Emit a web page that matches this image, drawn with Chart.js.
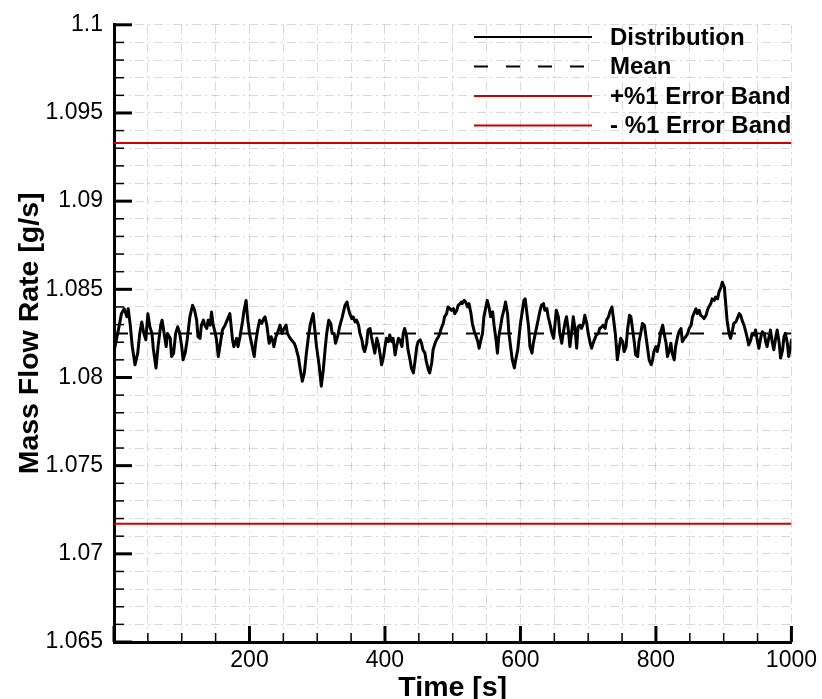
<!DOCTYPE html>
<html>
<head>
<meta charset="utf-8">
<title>Mass Flow Rate</title>
<script src="https://cdn.jsdelivr.net/npm/chart.js@4.4.1/dist/chart.umd.min.js"></script>
<style>
  html, body { margin: 0; padding: 0; background: #fff; }
  canvas { display: block; }
</style>
</head>
<body>
<canvas id="flowChart" width="822" height="699"></canvas>
<script>
// time stamps [s]
const timeS = [
  0, 6, 11, 15, 19, 21, 24, 27, 31, 35, 38, 41, 44, 47, 50, 53, 56, 58, 62, 65,
  69, 71, 74, 77, 79, 83, 85, 88, 91, 94, 97, 100, 102, 105, 108, 112, 116, 119, 122, 124,
  127, 129, 132, 134, 137, 139, 142, 144, 146, 149, 151, 154, 157, 160, 164, 168, 171,
  175, 177, 181, 183, 186, 190, 192, 195, 197, 200, 203, 207, 209, 212, 215, 218, 221, 223, 226, 229,
  232, 234, 236, 239, 242, 245, 248, 251, 254, 256, 260, 262, 266, 268, 272, 275, 278, 281, 284, 287,
  290, 294, 296, 299, 303, 306, 309, 312, 314, 317, 320, 322, 325, 327, 330, 333, 337, 341, 344,
  346, 348, 351, 353, 356, 358, 361, 363, 366, 368, 370, 373, 375, 378, 380, 383, 385, 388, 390, 393,
  395, 398, 400, 402, 405, 407, 410, 412, 415, 417, 420, 422, 425, 427, 429, 432, 434, 437, 439, 442,
  444, 447, 449, 452, 454, 456, 459, 461, 464, 466, 469, 471, 474, 476, 479, 481, 483, 486, 488, 491,
  493, 496, 498, 501, 503, 506, 508, 511, 513,
  514, 517, 519, 522, 524, 527, 529, 532, 534, 537, 539, 541, 544, 546, 549, 551, 554, 556, 559, 561,
  564, 566, 568, 571, 573, 576, 578, 581, 583, 586, 588, 591, 593, 596, 598, 600, 603, 605, 607, 609,
  612, 614, 617, 619, 622, 624, 626, 629, 631, 634, 636, 639, 641, 644, 646, 649, 651, 653, 656, 658,
  661, 663, 666, 668, 671, 673, 676, 678, 681, 683, 685,
  688, 690, 693, 695, 698, 700, 703, 705, 708, 710, 712, 715, 717, 720, 722, 725, 727, 730, 732, 735,
  737, 740, 742, 743, 746, 748, 751, 753, 756, 758, 761, 763, 766, 768, 770, 773, 775, 778, 780, 783,
  785, 788, 790, 793, 795, 797, 800, 802, 805, 807, 810, 812, 815, 817, 820, 822, 824, 827, 829, 832,
  834, 837, 839, 842, 844, 847, 849, 852, 854, 856,
  859, 861, 864, 866, 869, 871, 874, 876, 878, 881, 883, 886, 888, 891, 893, 896, 898, 901, 903, 905,
  908, 910, 913, 915, 918, 920, 923, 925, 928, 930, 932, 935, 937, 940, 942, 945, 947, 950, 952, 955,
  957, 960, 962, 964, 967, 969, 972, 974, 977, 979, 982, 984, 987, 989, 991, 994, 996, 999, 1000
];

// mass flow rate [g/s], one value per time stamp
const massFlow = [
  1.08147, 1.0826, 1.08362, 1.0839, 1.08344, 1.0839, 1.08297, 1.08175, 1.08072, 1.08138,
  1.0825, 1.08315, 1.0825, 1.08213, 1.08362, 1.08287, 1.0825, 1.08166, 1.08054, 1.08175,
  1.08297, 1.08325, 1.0825, 1.08175, 1.0825, 1.08222, 1.08119, 1.08138, 1.0825, 1.08287,
  1.0825, 1.08175, 1.081, 1.08138, 1.08213, 1.08344, 1.08409, 1.08381, 1.08325, 1.08231,
  1.08222, 1.08297, 1.08325, 1.08297, 1.08278, 1.08325, 1.08297, 1.08372, 1.08306, 1.08259,
  1.08222, 1.08119, 1.08194, 1.08269, 1.08297, 1.08334, 1.08362,
  1.08213, 1.08175, 1.08222, 1.08175, 1.08231, 1.08325, 1.08381, 1.08437, 1.08344, 1.0825,
  1.08194, 1.08119, 1.08194, 1.08269, 1.08325, 1.08306, 1.08334, 1.08344, 1.08287, 1.08194,
  1.08231, 1.08213, 1.08175, 1.08231, 1.08259, 1.08297, 1.0825, 1.08278, 1.08297, 1.0825,
  1.08222, 1.08213, 1.08194, 1.08175, 1.08119, 1.08044, 1.07979, 1.08026, 1.08138, 1.08231,
  1.08306, 1.08362, 1.08287, 1.08175, 1.08063, 1.07951, 1.08044, 1.08175, 1.0825, 1.08325,
  1.08306, 1.0825, 1.0825, 1.08194, 1.08231, 1.08287, 1.08344, 1.08409, 1.08428,
  1.0839, 1.08362, 1.08334, 1.08344, 1.08315, 1.08325, 1.08297, 1.0825, 1.08213, 1.08166,
  1.08147, 1.08194, 1.08269, 1.08278, 1.08231, 1.08175, 1.08138, 1.08222, 1.08194, 1.08128,
  1.08072, 1.08119, 1.08175, 1.08222, 1.08203, 1.08241, 1.08203, 1.08222, 1.08128, 1.08175,
  1.08222, 1.08213, 1.08175, 1.0825, 1.08278, 1.08231, 1.08157, 1.081, 1.08054, 1.08026,
  1.08082, 1.08175, 1.08203, 1.08213, 1.08194, 1.08157, 1.08138, 1.08091, 1.08044, 1.08026,
  1.08082, 1.08157, 1.08194, 1.08213, 1.08231, 1.0825, 1.08278, 1.08306, 1.08344, 1.08362,
  1.084, 1.0839, 1.08381, 1.0839, 1.08362, 1.08381, 1.08409, 1.08419, 1.08428,
  1.08419, 1.08437, 1.08428, 1.084, 1.08419, 1.08362, 1.08306, 1.08259, 1.08241, 1.08203,
  1.08166, 1.08203, 1.0825, 1.08344, 1.084, 1.08437, 1.0839, 1.08344, 1.08372, 1.08297,
  1.08213, 1.08138, 1.08231, 1.08297, 1.08344, 1.0839, 1.08428, 1.08362, 1.0825, 1.08157,
  1.081, 1.08054, 1.081, 1.08157, 1.08231, 1.08306, 1.08381, 1.08437, 1.08446, 1.08381,
  1.08287, 1.08175, 1.08138, 1.08194, 1.0825, 1.08287, 1.08325, 1.08381, 1.08409, 1.08419,
  1.08381, 1.0839, 1.08344, 1.08297, 1.08259, 1.08222, 1.08306, 1.08381, 1.08344, 1.0825,
  1.08194, 1.0825, 1.08315, 1.08344, 1.08259, 1.08175, 1.08269, 1.08344, 1.08259, 1.08166,
  1.08287,
  1.08297, 1.08278, 1.08306, 1.08353, 1.08306, 1.0825, 1.08194, 1.08166, 1.08203, 1.08222,
  1.08241, 1.0825, 1.08278, 1.08287, 1.08297, 1.08278, 1.08325, 1.08344, 1.08372, 1.084,
  1.08344, 1.0825, 1.08157, 1.081, 1.08175, 1.08222, 1.08203, 1.08147, 1.08175, 1.08269,
  1.08353, 1.08344, 1.08259, 1.08203, 1.08128, 1.08119, 1.08203, 1.08259, 1.08306, 1.08297,
  1.08241, 1.08157, 1.081, 1.08072, 1.081, 1.08147, 1.08175, 1.08147, 1.08203, 1.08259,
  1.08297, 1.0825, 1.08194, 1.08119, 1.08157, 1.08194, 1.08138, 1.081, 1.08175, 1.08231,
  1.08259, 1.08278, 1.08203, 1.08222, 1.08231, 1.0825, 1.08278, 1.08297, 1.08344, 1.08362,
  1.0839, 1.08362, 1.08381, 1.08353, 1.08344, 1.08334, 1.08353, 1.08381, 1.084, 1.08419,
  1.08446, 1.08437, 1.08456, 1.08446, 1.08484, 1.08512, 1.0854, 1.08512, 1.08419, 1.08325,
  1.0825, 1.08222, 1.08269, 1.08306, 1.08315, 1.08334, 1.08362, 1.08353, 1.08315, 1.08297,
  1.08269, 1.08222, 1.08185, 1.08213, 1.0825, 1.08241, 1.08269, 1.08203, 1.08166, 1.08231,
  1.08259, 1.0825, 1.08203, 1.08175, 1.08231, 1.08269, 1.08194, 1.08157, 1.08231, 1.08269,
  1.08194, 1.0811, 1.08157, 1.08231, 1.0825, 1.08194, 1.08119, 1.08175, 1.08213
];

const timeRange = [0, 1000];
const meanFlow = 1.0825;
const upperBand = 1.0933;
const lowerBand = 1.0717;

const seriesLabels = ['Distribution', 'Mean', '+%1 Error Band', '- %1 Error Band'];

const FONT = 'Arial, "Liberation Sans", sans-serif';

if (timeS.length !== massFlow.length) {
    console.error('length mismatch', timeS.length, massFlow.length);
}

const flowPoints = timeS.map((t, i) => ({ x: t, y: massFlow[i] }));
const flat = v => timeRange.map(t => ({ x: t, y: v }));

const isMajorY = v => Math.abs(v * 200 - Math.round(v * 200)) < 1e-6;
const isMajorX = v => v % 200 === 0;

// tick marks drawn inward, like the original plot
const inwardTicks = {
    id: 'inwardTicks',
    afterDraw(chart) {
        const { ctx, chartArea, scales: { x, y } } = chart;
        ctx.save();
        ctx.strokeStyle = '#000';
        x.ticks.forEach(t => {
            const px = x.getPixelForValue(t.value);
            const major = isMajorX(t.value);
            ctx.lineWidth = major ? 3 : 1.5;
            ctx.beginPath();
            ctx.moveTo(px, chartArea.bottom);
            ctx.lineTo(px, chartArea.bottom - (major ? 16 : 9));
            ctx.stroke();
        });
        y.ticks.forEach(t => {
            const py = y.getPixelForValue(t.value);
            const major = isMajorY(t.value);
            ctx.lineWidth = major ? 3 : 1.5;
            ctx.beginPath();
            ctx.moveTo(chartArea.left, py);
            ctx.lineTo(chartArea.left + (major ? 18 : 10), py);
            ctx.stroke();
        });
        ctx.restore();
    }
};

// legend with long line samples, top right inside the plot
const lineLegend = {
    id: 'lineLegend',
    afterDraw(chart) {
        const ctx = chart.ctx;
        const x0 = 474, x1 = 592, tx = 610, y0 = 37, dy = 29.5;
        ctx.save();
        ctx.font = 'bold 24px ' + FONT;
        ctx.textBaseline = 'middle';
        ctx.fillStyle = '#000';
        chart.data.datasets.forEach((ds, i) => {
            const yy = y0 + i * dy;
            ctx.strokeStyle = ds.borderColor;
            ctx.lineWidth = 2;
            ctx.setLineDash(ds.borderDash || []);
            ctx.beginPath();
            ctx.moveTo(x0, yy);
            ctx.lineTo(x1, yy);
            ctx.stroke();
            ctx.setLineDash([]);
            ctx.fillText(ds.label, tx, yy + 1);
        });
        ctx.restore();
    }
};

const ctx = document.getElementById('flowChart').getContext('2d');

const chart = new Chart(ctx, {
    type: 'line',
    data: {
        datasets: [
            {
                label: seriesLabels[0], data: flowPoints, borderColor: '#000', borderWidth: 3,
                borderJoinStyle: 'round', borderCapStyle: 'round'
            },
            { label: seriesLabels[1], data: flat(meanFlow), borderColor: '#000', borderWidth: 2, borderDash: [14, 18] },
            { label: seriesLabels[2], data: flat(upperBand), borderColor: '#cc0000', borderWidth: 2 },
            { label: seriesLabels[3], data: flat(lowerBand), borderColor: '#cc0000', borderWidth: 2 }
        ]
    },
    options: {
        responsive: false,
        animation: false,
        devicePixelRatio: 1,
        elements: { point: { radius: 0 }, line: { tension: 0 } },
        layout: { padding: { top: 20, right: 29, left: 0, bottom: 0 } },
        plugins: { legend: { display: false }, tooltip: { enabled: false } },
        scales: {
            x: {
                type: 'linear',
                min: 0,
                max: 1000,
                afterFit: s => { s.height = 57; },
                border: { color: '#000', width: 3, dash: [9, 4, 2, 4] },
                grid: { color: 'rgba(0,0,0,0.15)', lineWidth: 1, drawTicks: false },
                ticks: {
                    stepSize: 50,
                    autoSkip: false,
                    maxRotation: 0,
                    padding: 5,
                    color: '#000',
                    font: { family: FONT, size: 23 },
                    callback: v => (isMajorX(v) && v !== 0 ? String(v) : '')
                },
                title: {
                    display: true,
                    text: 'Time [s]',
                    color: '#000',
                    font: { family: FONT, size: 28.5, weight: 'bold', lineHeight: 1 },
                    padding: { top: 0, bottom: -3 }
                }
            },
            y: {
                type: 'linear',
                min: 1.065,
                max: 1.1,
                afterFit: s => { s.width = 114; },
                border: { color: '#000', width: 3, dash: [9, 4, 2, 4] },
                grid: { color: 'rgba(0,0,0,0.15)', lineWidth: 1, drawTicks: false },
                ticks: {
                    stepSize: 0.001,
                    autoSkip: false,
                    padding: 11,
                    color: '#000',
                    font: { family: FONT, size: 23 },
                    callback: v => (isMajorY(v) ? String(parseFloat(v.toFixed(3))) : '')
                },
                title: {
                    display: true,
                    text: 'Mass Flow Rate [g/s]',
                    color: '#000',
                    font: { family: FONT, size: 28.5, weight: 'bold', lineHeight: 1 },
                    padding: { top: 16, bottom: 0 }
                }
            }
        }
    },
    plugins: [inwardTicks, lineLegend]
});
</script>
</body>
</html>
